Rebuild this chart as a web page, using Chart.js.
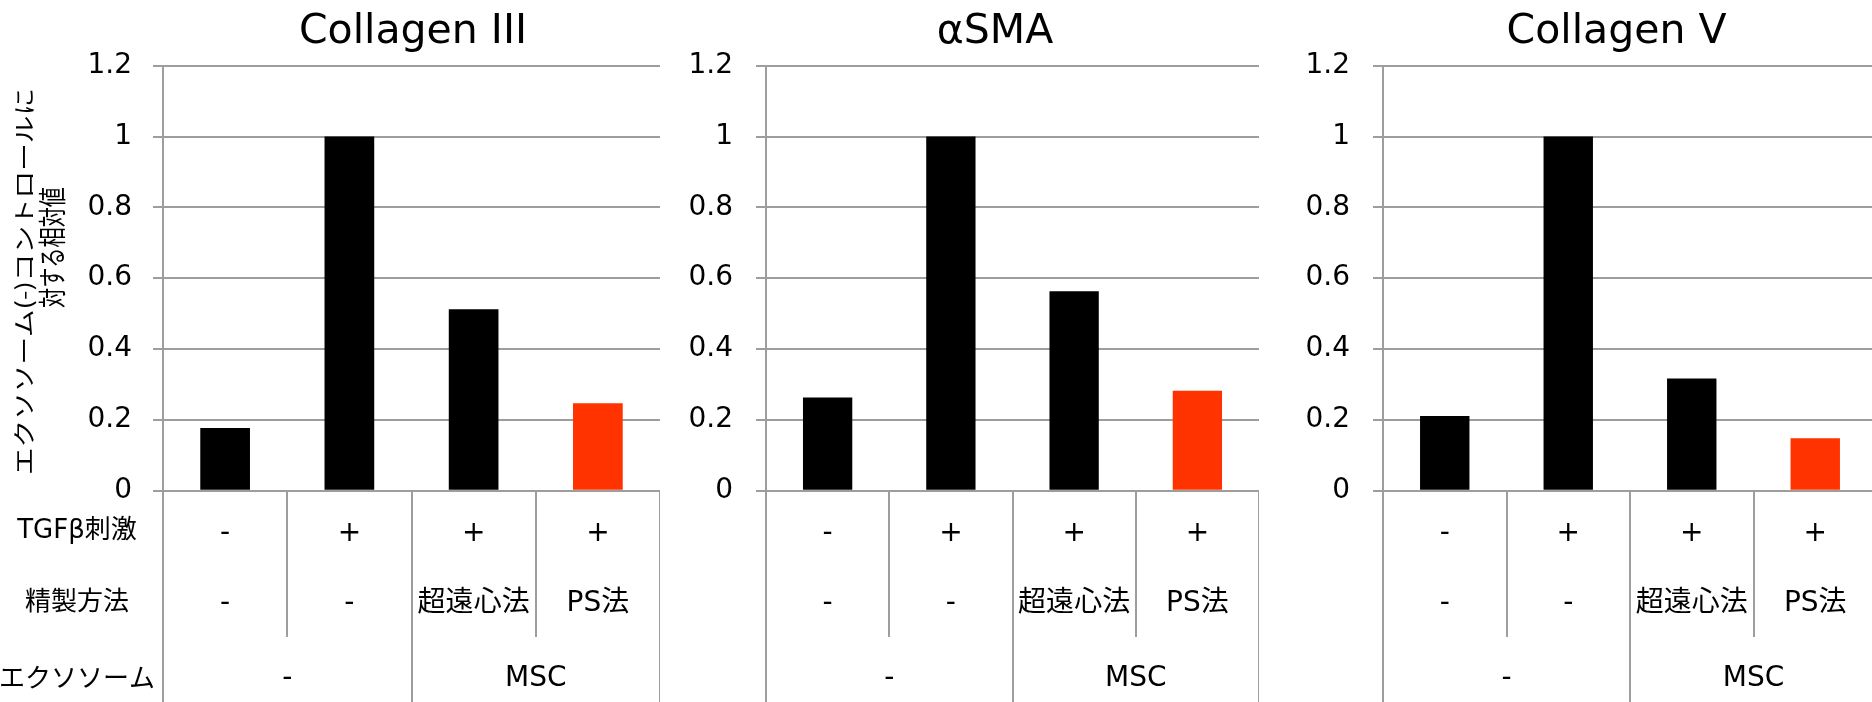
<!DOCTYPE html>
<html><head><meta charset="utf-8">
<script src="https://cdn.jsdelivr.net/npm/chart.js@4.4.1/dist/chart.umd.min.js"></script>
<style>
html,body{margin:0;padding:0;width:1872px;height:702px;overflow:hidden;background:#fff;}
canvas{position:absolute;top:0;}
</style></head><body>
<canvas id="c1"></canvas><canvas id="c2"></canvas><canvas id="c3"></canvas>
<script>
// ---- data ----
const panelTitles = ['Collagen III', 'αSMA', 'Collagen V'];
const tgfRow = ['-', '+', '+', '+'];
const methodRow = ['-', '-', '超遠心法', 'PS法'];
const exosomeGroups = ['-', 'MSC'];          // each spans two categories
const rowLabels = ['TGFβ刺激', '精製方法', 'エクソソーム'];
const yAxisTitle = ['エクソソーム(-)コントロールに', '対する相対値'];
const yTickLabels = ['0', '0.2', '0.4', '0.6', '0.8', '1', '1.2'];
const collagen3 = [0.177, 1.0, 0.512, 0.247];
const asma = [0.263, 1.0, 0.563, 0.282];
const collagen5 = [0.211, 1.0, 0.317, 0.148];
const barColors = ['#000000', '#000000', '#000000', '#ff3300'];

// ---- layout / style ----
const FONT = "'DejaVu Sans', 'Noto Sans CJK JP', sans-serif";
const CJK = "'Noto Sans CJK JP', sans-serif";
const GRID = '#9d9d9d';
const TOP = 65.7, ZERO = 490.7, H = 702;
const panels = [
  {id:'c1', title: panelTitles[0], values: collagen3, left: 0,    axisW: 163, width: 660, titleX: 413,   tickPad: 21, first: true},
  {id:'c2', title: panelTitles[1], values: asma,      left: 666,  axisW: 100, width: 593, titleX: 995,   tickPad: 23},
  {id:'c3', title: panelTitles[2], values: collagen5, left: 1283, axisW: 100, width: 594, titleX: 1616.5, tickPad: 23}
];
const xLabels = tgfRow.map((t, i) => [t, methodRow[i]]);

function fitText(ctx, text, cx, cy, fontPx, family, targetLen) {
  ctx.save();
  ctx.translate(cx, cy);
  ctx.rotate(-Math.PI / 2);
  ctx.font = fontPx + 'px ' + family;
  const w = ctx.measureText(text).width;
  ctx.scale(targetLen / w, 1);
  ctx.textAlign = 'center';
  ctx.textBaseline = 'middle';
  ctx.fillText(text, 0, 0);
  ctx.restore();
}

const tablePlugin = {
  id: 'table',
  afterDraw(chart, args, opts) {
    const ctx = chart.ctx, area = chart.chartArea;
    const n = xLabels.length, catW = (area.right - area.left) / n;
    ctx.save();
    ctx.strokeStyle = GRID; ctx.lineWidth = 2;
    for (let i = 0; i <= n; i++) {
      const x = Math.round(area.left + i * catW);
      const bottom = (i === 1 || i === 3) ? 637 : H;
      ctx.beginPath(); ctx.moveTo(x, ZERO); ctx.lineTo(x, bottom); ctx.stroke();
    }
    ctx.fillStyle = '#000';
    ctx.textAlign = 'center'; ctx.textBaseline = 'middle';
    ctx.font = '28px ' + FONT;
    exosomeGroups.forEach((g, k) => {
      ctx.fillText(g, area.left + (2 * k + 1) * catW, 679);
    });
    // panel title
    ctx.font = '41px ' + FONT;
    ctx.textBaseline = 'alphabetic';
    ctx.fillText(opts.title, opts.titleX - opts.left, 43);
    if (opts.first) {
      ctx.font = '26px ' + FONT;
      ctx.textBaseline = 'middle';
      const ys = [531, 603, 680];
      rowLabels.forEach((t, i) => ctx.fillText(t, 77, ys[i]));
      fitText(ctx, yAxisTitle[0], 23.3, 281.5, 22, CJK, 387);
      fitText(ctx, yAxisTitle[1], 52.5, 247.5, 28, CJK, 121);
    }
    ctx.restore();
  }
};

panels.forEach(p => {
  const cv = document.getElementById(p.id);
  cv.width = p.width; cv.height = H;
  cv.style.left = p.left + 'px';
  cv.style.width = p.width + 'px'; cv.style.height = H + 'px';
  new Chart(cv, {
    type: 'bar',
    data: {
      labels: xLabels,
      datasets: [{
        data: p.values,
        backgroundColor: barColors,
        borderWidth: 0,
        categoryPercentage: 1,
        barPercentage: 0.4
      }]
    },
    options: {
      responsive: false,
      animation: false,
      devicePixelRatio: 1,
      events: [],
      layout: { padding: { top: TOP, left: 0, right: 0, bottom: 0 } },
      plugins: {
        legend: { display: false },
        title: { display: false },
        tooltip: { enabled: false },
        table: { title: p.title, titleX: p.titleX, left: p.left, first: !!p.first }
      },
      scales: {
        x: {
          grid: { display: false, drawTicks: false },
          border: { display: false },
          ticks: {
            color: '#000', autoSkip: false, maxRotation: 0, minRotation: 0,
            padding: 8.3,
            font: { family: FONT, size: 28, lineHeight: 2.5 }
          },
          afterFit: s => { s.height = H - ZERO; }
        },
        y: {
          min: 0, max: 1.2,
          ticks: {
            stepSize: 0.2, color: '#000', padding: p.tickPad,
            font: { family: FONT, size: 28 },
            callback: (v, i) => yTickLabels[i]
          },
          grid: { color: GRID, lineWidth: 2, tickLength: 10, drawTicks: true },
          border: { display: true, color: GRID, width: 2 },
          afterFit: s => { s.width = p.axisW; }
        }
      }
    },
    plugins: [tablePlugin]
  });
});
</script>
</body></html>
